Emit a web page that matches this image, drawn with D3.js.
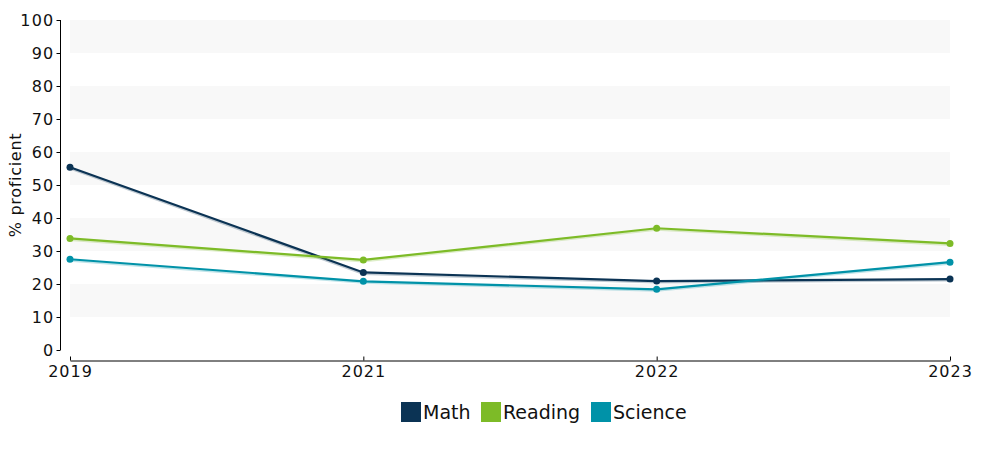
<!DOCTYPE html>
<html><head>
<script src="https://d3js.org/d3.v7.min.js"></script>
<style>
  body { margin: 0; background: #fff; }
  text { font-family: "DejaVu Sans", Verdana, sans-serif; fill: #111; }
  .band { fill: #f8f8f8; }
</style>
</head>
<body>
<script>
// data
const years = ["2019", "2021", "2022", "2023"];
const subjects = ["Math", "Reading", "Science"];
const colors = ["#0b3354", "#7dbb27", "#0092a8"];
const math = [55.4, 23.5, 20.9, 21.5];
const reading = [33.8, 27.3, 36.9, 32.3];
const science = [27.5, 20.8, 18.4, 26.6];
const yTicks = [0, 10, 20, 30, 40, 50, 60, 70, 80, 90, 100];

const series = [math, reading, science];

const width = 1000, height = 450;
const svg = d3.select("body").append("svg")
    .attr("width", width).attr("height", height);

const x = d3.scalePoint().domain(years).range([70, 950]);
const y = d3.scaleLinear().domain([0, 100]).range([350, 20]);

// bands
const bandStarts = [10, 30, 50, 70, 90];
svg.selectAll("rect.band").data(bandStarts)
  .join("rect")
  .attr("class", "band")
  .attr("x", 70)
  .attr("width", 880)
  .attr("y", d => y(d + 10))
  .attr("height", d => y(d) - y(d + 10));

// y axis
const yAxis = svg.append("g")
  .attr("transform", "translate(60.5,0)")
  .call(d3.axisLeft(y).tickValues(yTicks).tickSize(4).tickPadding(2));
yAxis.selectAll("text").style("font-size", "16px").style("letter-spacing", "1.2px");
yAxis.selectAll("line, path").attr("stroke", "#000");
yAxis.select(".domain").attr("d", "M0," + y(100) + "V" + y(0));

// x axis
const xAxis = svg.append("g")
  .attr("transform", "translate(0,360.5)")
  .call(d3.axisBottom(x).tickSize(-4).tickPadding(5).tickSizeOuter(0));
xAxis.selectAll("text").style("font-size", "16px").style("letter-spacing", "1px").attr("dy", "0.71em");
xAxis.selectAll("line, path").attr("stroke", "#000");

// y label
svg.append("text")
  .attr("transform", "translate(21," + y(50) + ") rotate(-90)")
  .attr("text-anchor", "middle")
  .style("font-size", "16px")
  .style("letter-spacing", "0.7px")
  .text("% proficient");

// lines
const line = d3.line().x((d, i) => x(years[i])).y(d => y(d));
series.forEach((s, k) => {
  svg.append("path").datum(s)
    .attr("d", line)
    .attr("fill", "none")
    .attr("stroke", colors[k])
    .attr("stroke-opacity", 0.25)
    .attr("stroke-width", 2)
    .attr("transform", "translate(0,1.5)");
  svg.append("path").datum(s)
    .attr("d", line)
    .attr("fill", "none")
    .attr("stroke", colors[k])
    .attr("stroke-width", 2.2);
  svg.selectAll("circle.s" + k).data(s)
    .join("circle")
    .attr("class", "s" + k)
    .attr("cx", (d, i) => x(years[i]))
    .attr("cy", d => y(d))
    .attr("r", 3.5)
    .attr("fill", colors[k]);
});

// legend
const legendX = [401, 481, 591];
const legend = svg.append("g");
subjects.forEach((name, k) => {
  legend.append("rect")
    .attr("x", legendX[k]).attr("y", 402)
    .attr("width", 20).attr("height", 20)
    .attr("fill", colors[k]);
  legend.append("text")
    .attr("x", legendX[k] + 22).attr("y", 419)
    .style("font-size", "19px")
    .text(name);
});
</script>
</body></html>
